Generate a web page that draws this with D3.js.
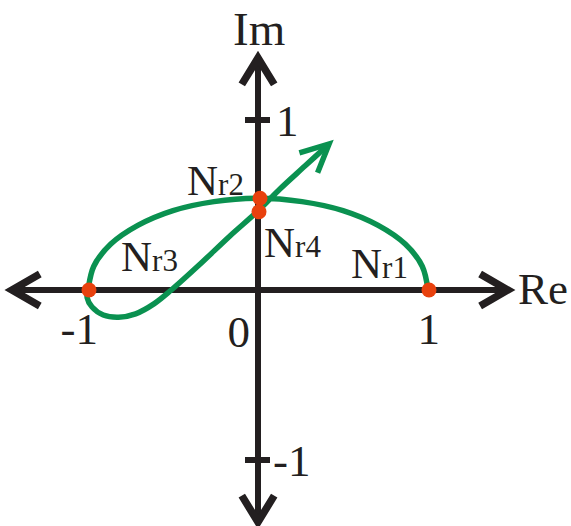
<!DOCTYPE html>
<html>
<head>
<meta charset="utf-8">
<script src="https://cdn.jsdelivr.net/npm/d3@7"></script>
<style>
  html, body { margin: 0; padding: 0; background: #ffffff; }
  svg { display: block; }
  text { font-family: "Liberation Serif", "Times New Roman", serif; fill: #231f20; }
</style>
</head>
<body>
<svg id="chart" width="571" height="526"></svg>
<script>
// Nyquist-style locus in the complex plane (Re, Im)
const curveRe = [1.0, 0.966, 0.866, 0.707, 0.5, 0.259, 0.0, -0.259, -0.5, -0.707, -0.866, -0.966, -1.0,
                 -1.005, -0.976, -0.91, -0.82, -0.72, -0.61, -0.51, -0.34, -0.165, 0.0, 0.129, 0.276, 0.418];
const curveIm = [0.0, 0.14, 0.27, 0.38, 0.467, 0.52, 0.54, 0.52, 0.467, 0.38, 0.27, 0.14, 0.0,
                 -0.045, -0.1, -0.147, -0.16, -0.14, -0.08, 0.0, 0.153, 0.318, 0.465, 0.594, 0.729, 0.859];

// Marked points on the locus
const pointNames = ["1", "2", "3", "4"];
const pointRe = [1.0, 0.0, -1.0, 0.0];
const pointIm = [0.0, 0.54, 0.0, 0.46];

// Axis tick values and labels
const reTicks = [-1, 0, 1];
const reTickLabels = ["-1", "0", "1"];
const imTicks = [1, -1];
const imTickLabels = ["1", "-1"];

const axisColor = "#231f20";
const curveColor = "#0a9150";
const dotColor = "#e8410e";

const svg = d3.select("#chart");
const x = d3.scaleLinear().domain([-1, 1]).range([88, 428]);
const y = d3.scaleLinear().domain([-1, 1]).range([460, 120]);

// Open V arrowhead at (tx, ty) pointing along angle ang
function arrowHead(g, tx, ty, ang, len, spread, color, width) {
  const pts = [
    [tx - len * Math.cos(ang - spread), ty - len * Math.sin(ang - spread)],
    [tx, ty],
    [tx - len * Math.cos(ang + spread), ty - len * Math.sin(ang + spread)]
  ];
  g.append("path")
    .attr("d", d3.line()(pts))
    .attr("fill", "none")
    .attr("stroke", color)
    .attr("stroke-width", width)
    .attr("stroke-linecap", "butt")
    .attr("stroke-linejoin", "miter");
}

const axes = svg.append("g");
const xMin = -1.447, xMax = 1.47, yMin = -1.365, yMax = 1.365;

// Real axis
axes.append("line")
  .attr("x1", x(xMin) + 2).attr("x2", x(xMax) - 2)
  .attr("y1", y(0)).attr("y2", y(0))
  .attr("stroke", axisColor).attr("stroke-width", 6);
// Imaginary axis
axes.append("line")
  .attr("x1", x(0)).attr("x2", x(0))
  .attr("y1", y(yMax) + 2).attr("y2", y(yMin) - 2)
  .attr("stroke", axisColor).attr("stroke-width", 6);

arrowHead(axes, x(xMax), y(0), 0, 32, 0.52, axisColor, 7.5);
arrowHead(axes, x(xMin), y(0), Math.PI, 32, 0.52, axisColor, 7.5);
arrowHead(axes, x(0), y(yMax), -Math.PI / 2, 31, 0.55, axisColor, 7.5);
arrowHead(axes, x(0), y(yMin), Math.PI / 2, 31, 0.55, axisColor, 7.5);

// Tick crosses on the imaginary axis
axes.selectAll(".imtick").data(imTicks).join("line")
  .attr("x1", x(0) - 13).attr("x2", x(0) + 12)
  .attr("y1", d => y(d)).attr("y2", d => y(d))
  .attr("stroke", axisColor).attr("stroke-width", 6);

// Tick labels
const reLabelPos = { "-1": [98, 344], "0": [250, 347], "1": [440, 344] };
axes.selectAll(".relabel").data(reTicks).join("text")
  .attr("x", (d, i) => reLabelPos[reTickLabels[i]][0])
  .attr("y", (d, i) => reLabelPos[reTickLabels[i]][1])
  .attr("text-anchor", "end")
  .attr("font-size", 45)
  .text((d, i) => reTickLabels[i]);

axes.selectAll(".imlabel").data(imTicks).join("text")
  .attr("x", d => d > 0 ? x(0) + 18 : x(0) + 15)
  .attr("y", d => y(d) + 16)
  .attr("font-size", 45)
  .text((d, i) => imTickLabels[i]);

// Axis names
svg.append("text").attr("x", 233).attr("y", 45).attr("font-size", 47).text("Im");
svg.append("text").attr("x", 518).attr("y", 304).attr("font-size", 45).text("Re");

// Locus
const pts = curveRe.map((r, i) => [x(r), y(curveIm[i])]);
svg.append("path")
  .attr("d", d3.line().curve(d3.curveCatmullRom.alpha(0.5))(pts))
  .attr("fill", "none")
  .attr("stroke", curveColor)
  .attr("stroke-width", 5.5)
  .attr("stroke-linecap", "butt");

const n = pts.length;
const endAng = Math.atan2(pts[n - 1][1] - pts[n - 2][1], pts[n - 1][0] - pts[n - 2][0]);
arrowHead(svg, pts[n - 1][0], pts[n - 1][1], endAng, 31, 0.45, curveColor, 5.5);

// Marked points
svg.selectAll(".pt").data(pointNames).join("circle")
  .attr("cx", (d, i) => x(pointRe[i]) + (i === 1 ? 2 : 1))
  .attr("cy", (d, i) => y(pointIm[i]))
  .attr("r", 7.5)
  .attr("fill", dotColor);

// Point labels N_r1..N_r4
const labelPos = [[351, 278], [187, 195], [121, 271], [264, 257]];
const lab = svg.selectAll(".ptlabel").data(pointNames).join("text")
  .attr("x", (d, i) => labelPos[i][0])
  .attr("y", (d, i) => labelPos[i][1])
  .attr("font-size", 43);
lab.append("tspan").text("N");
lab.append("tspan").attr("font-size", 31).text(d => "r" + d);
</script>
</body>
</html>
